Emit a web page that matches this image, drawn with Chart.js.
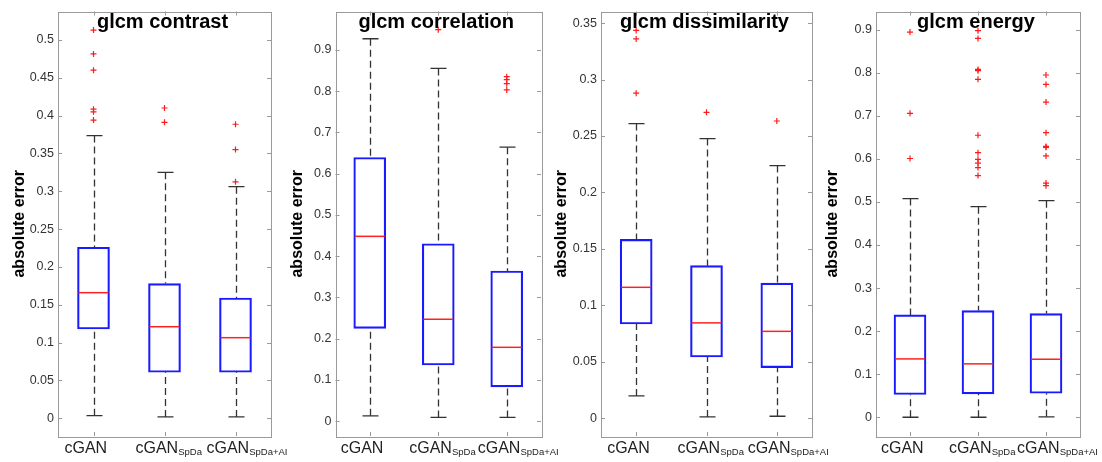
<!DOCTYPE html>
<html>
<head>
<meta charset="utf-8">
<script src="https://cdn.jsdelivr.net/npm/chart.js@4"></script>
<style>
  body { margin: 0; background: #fff; }
  #wrap { position: relative; width: 1102px; height: 462px; }
  canvas { position: absolute; left: 0; top: 0; }
</style>
</head>
<body>
<div id="wrap">
  <canvas id="c0" width="1102" height="462"></canvas>
  <canvas id="c1" width="1102" height="462"></canvas>
  <canvas id="c2" width="1102" height="462"></canvas>
  <canvas id="c3" width="1102" height="462"></canvas>
</div>
<script>
const groups = ['cGAN', 'cGAN', 'cGAN'];
const groupSubs = ['', 'SpDa', 'SpDa+AI'];
const titles = ['glcm contrast', 'glcm correlation', 'glcm dissimilarity', 'glcm energy'];
const yLabel = 'absolute error';

// each row: [lower whisker, q1, median, q3, upper whisker]
const contrastBox = [
  [0.0035, 0.118, 0.166, 0.226, 0.3735],
  [0.0018, 0.0608, 0.121, 0.178, 0.325],
  [0.0018, 0.0608, 0.1065, 0.159, 0.306]
];
const contrastOut = [[0.513, 0.4815, 0.46, 0.4085, 0.405, 0.394], [0.41, 0.391], [0.3885, 0.355, 0.3125]];
const contrastTicks = [0, 0.05, 0.1, 0.15, 0.2, 0.25, 0.3, 0.35, 0.4, 0.45, 0.5];
const contrastRange = [-0.0234, 0.5375];

const correlationBox = [
  [0.013, 0.225, 0.448, 0.639, 0.927],
  [0.009, 0.136, 0.247, 0.43, 0.855],
  [0.009, 0.083, 0.179, 0.364, 0.664]
];
const correlationOut = [[], [0.949], [0.835, 0.828, 0.818, 0.803]];
const correlationTicks = [0, 0.1, 0.2, 0.3, 0.4, 0.5, 0.6, 0.7, 0.8, 0.9];
const correlationRange = [-0.036, 0.993];

const dissimilarityBox = [
  [0.0198, 0.0835, 0.116, 0.1585, 0.261],
  [0.0012, 0.0543, 0.0845, 0.1352, 0.2477],
  [0.0018, 0.0448, 0.077, 0.1197, 0.2238]
];
const dissimilarityOut = [[0.3435, 0.336, 0.288], [0.271], [0.2633]];
const dissimilarityTicks = [0, 0.05, 0.1, 0.15, 0.2, 0.25, 0.3, 0.35];
const dissimilarityRange = [-0.0157, 0.3603];

const energyBox = [
  [0, 0.0527, 0.1355, 0.2377, 0.508],
  [0, 0.0542, 0.124, 0.2478, 0.489],
  [0.001, 0.0558, 0.1347, 0.2408, 0.503]
];
const energyOut = [
  [0.8946, 0.706, 0.601],
  [0.898, 0.88, 0.808, 0.805, 0.785, 0.655, 0.6145, 0.599, 0.5905, 0.58, 0.5613],
  [0.795, 0.773, 0.732, 0.661, 0.629, 0.627, 0.607, 0.544, 0.538]
];
const energyTicks = [0, 0.1, 0.2, 0.3, 0.4, 0.5, 0.6, 0.7, 0.8, 0.9];
const energyRange = [-0.0436, 0.9425];

const panels = [
  { box: contrastBox, out: contrastOut, ticks: contrastTicks, range: contrastRange },
  { box: correlationBox, out: correlationOut, ticks: correlationTicks, range: correlationRange },
  { box: dissimilarityBox, out: dissimilarityOut, ticks: dissimilarityTicks, range: dissimilarityRange },
  { box: energyBox, out: energyOut, ticks: energyTicks, range: energyRange }
];

// layout of the four axes boxes
const axesX = [[58, 271], [335.5, 541], [601, 812], [876, 1080]];
const axTop = 11, axBottom = 436;
const yTitleGap = [38, 38, 39, 43];
const FONT = "'Liberation Sans', Arial, Helvetica, sans-serif";

function makeChart(idx) {
  const p = panels[idx];
  const [axL, axR] = axesX[idx];
  const yW = yTitleGap[idx] + 10;

  const extras = {
    id: 'boxExtras',
    beforeDatasetsDraw(chart) {
      const { ctx, scales: { x, y } } = chart;
      ctx.save();
      ctx.lineWidth = 1.3;
      ctx.strokeStyle = '#333';
      p.box.forEach((s, i) => {
        const cx = Math.round(x.getPixelForValue(i + 1)) + 0.5;
        ctx.setLineDash([7, 4]);
        ctx.beginPath();
        ctx.moveTo(cx, y.getPixelForValue(s[4]));
        ctx.lineTo(cx, y.getPixelForValue(s[3]));
        ctx.moveTo(cx, y.getPixelForValue(s[0]));
        ctx.lineTo(cx, y.getPixelForValue(s[1]));
        ctx.stroke();
        ctx.setLineDash([]);
        ctx.beginPath();
        for (const v of [s[0], s[4]]) {
          const py = y.getPixelForValue(v);
          ctx.moveTo(cx - 8, py);
          ctx.lineTo(cx + 8, py);
        }
        ctx.stroke();
      });
      ctx.restore();
    },
    afterDatasetsDraw(chart) {
      const { ctx, scales: { x, y } } = chart;
      ctx.save();
      ctx.lineWidth = 1.5;
      ctx.strokeStyle = '#ff2020';
      p.box.forEach((s, i) => {
        const cx = x.getPixelForValue(i + 1);
        const py = y.getPixelForValue(s[2]);
        ctx.beginPath();
        ctx.moveTo(cx - 15, py);
        ctx.lineTo(cx + 15, py);
        ctx.stroke();
      });
      ctx.restore();
    },
    afterDraw(chart) {
      const { ctx, chartArea: a, scales: { x, y } } = chart;
      ctx.save();
      ctx.strokeStyle = '#9a9a9a';
      ctx.lineWidth = 1;
      ctx.strokeRect(Math.round(a.left) + 0.5, Math.round(a.top) + 0.5,
        Math.round(a.right - a.left), Math.round(a.bottom - a.top));
      ctx.beginPath();
      for (const t of p.ticks) {
        const py = Math.round(y.getPixelForValue(t)) + 0.5;
        ctx.moveTo(a.left, py); ctx.lineTo(a.left + 4, py);
        ctx.moveTo(a.right, py); ctx.lineTo(a.right - 4, py);
      }
      p.box.forEach((s, i) => {
        const px = Math.round(x.getPixelForValue(i + 1)) + 0.5;
        ctx.moveTo(px, a.top); ctx.lineTo(px, a.top + 4);
        ctx.moveTo(px, a.bottom); ctx.lineTo(px, a.bottom - 4);
      });
      ctx.stroke();

      // title inside the top of the axes
      ctx.fillStyle = '#000';
      ctx.font = 'bold 20px ' + FONT;
      ctx.textAlign = 'center';
      ctx.textBaseline = 'alphabetic';
      ctx.fillText(titles[idx], (a.left + a.right) / 2 - 2, 27.5);

      // group labels with subscripts
      ctx.textAlign = 'left';
      ctx.fillStyle = '#222';
      groups.forEach((g, i) => {
        const lx = x.getPixelForValue(i + 1) - 29;
        ctx.font = '16px ' + FONT;
        ctx.fillText(g, lx, 452.5);
        const w = ctx.measureText(g).width;
        ctx.font = '9.5px ' + FONT;
        ctx.fillText(groupSubs[i], lx + w, 455);
      });
      ctx.restore();
    }
  };

  return new Chart(document.getElementById('c' + idx), {
    type: 'bar',
    data: {
      datasets: [
        {
          data: p.box.map((s, i) => ({ x: i + 1, y: [s[1], s[3]] })),
          backgroundColor: 'rgba(0,0,0,0)',
          borderColor: '#1a1aff',
          borderWidth: 1.5,
          borderSkipped: false,
          barThickness: 32
        },
        {
          type: 'scatter',
          data: p.out.flatMap((vals, i) => vals.map(v => ({ x: i + 1, y: v }))),
          pointStyle: 'cross',
          radius: 3,
          borderColor: '#ff1a1a',
          borderWidth: 1.2
        }
      ]
    },
    options: {
      responsive: false,
      animation: false,
      layout: {
        padding: { left: axL - yW, right: 1102 - axR, top: axTop, bottom: 462 - axBottom }
      },
      plugins: { legend: { display: false }, tooltip: { enabled: false } },
      scales: {
        x: { type: 'linear', min: 0.5, max: 3.5, offset: false, display: false },
        y: {
          type: 'linear',
          min: p.range[0],
          max: p.range[1],
          grid: { display: false, drawTicks: false },
          border: { display: false },
          afterBuildTicks: s => { s.ticks = p.ticks.map(v => ({ value: v })); },
          afterFit: s => { s.width = yW; },
          ticks: {
            padding: 4,
            color: '#333',
            font: { family: FONT, size: 12.5 },
            callback: v => String(v)
          },
          title: {
            display: true,
            text: yLabel,
            color: '#000',
            padding: 0,
            font: { family: FONT, size: 16, weight: 'bold' }
          }
        }
      }
    },
    plugins: [extras]
  });
}

window.onload = () => {
  panels.forEach((_, i) => makeChart(i));
};
</script>
</body>
</html>
